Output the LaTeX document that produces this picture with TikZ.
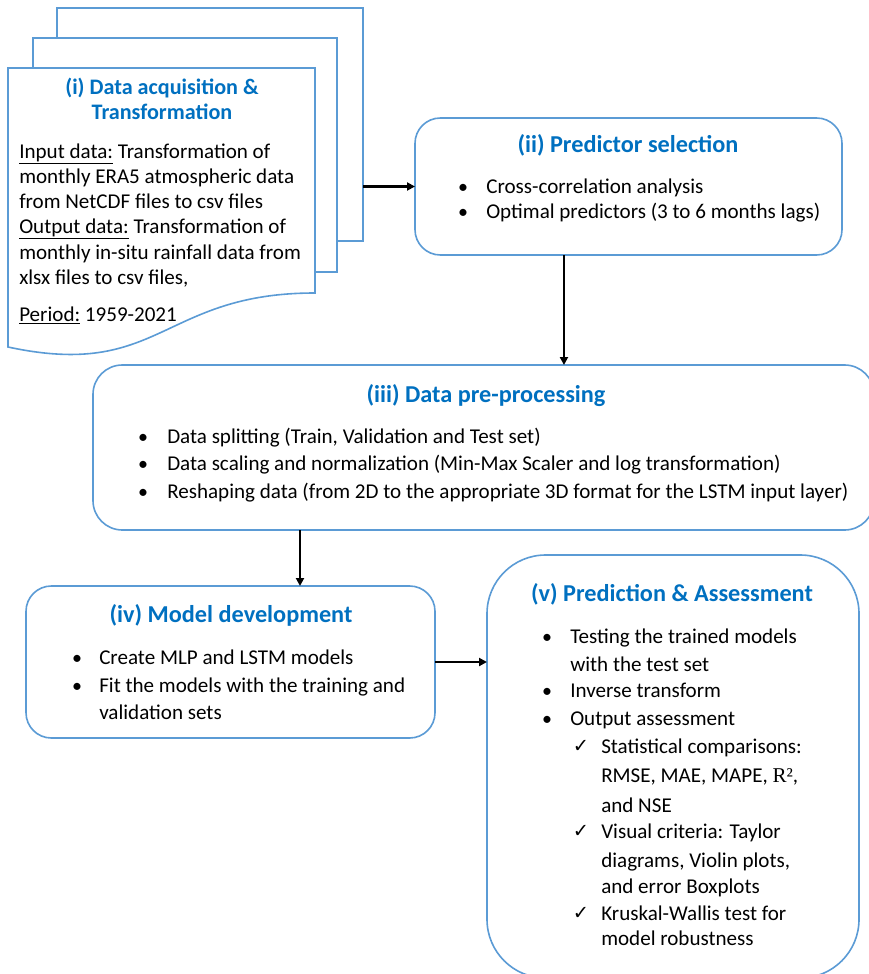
\documentclass[tikz,border=0pt]{standalone}
\usepackage{fontspec}
\setmainfont{Carlito}
\newfontfamily\symfont{DejaVu Sans}
\newfontfamily\rfont{Liberation Serif}
\usetikzlibrary{arrows.meta,fit}
\definecolor{bord}{HTML}{5B9BD5}
\definecolor{ttlblue}{HTML}{0070C0}
\tikzset{
  box/.style={draw=bord, line width=1.2pt, fill=white, inner sep=0pt, outer sep=0pt},
  docst/.style={draw=bord, line width=1.2pt, fill=white, inner sep=0pt, outer sep=0pt},
  ttl/.style={text=ttlblue, font=\fontsize{18.2}{22}\selectfont\bfseries, anchor=base, inner sep=0pt},
  dttl/.style={text=ttlblue, font=\fontsize{16.6}{20}\selectfont\bfseries, anchor=base, inner sep=0pt},
  txt/.style={font=\fontsize{15.8}{19}\selectfont, anchor=base west, inner sep=0pt},
  bul/.style={font=\fontsize{15}{19}\selectfont, anchor=base, inner sep=0pt},
  chk/.style={font=\fontsize{14.5}{16}\symfont, anchor=base, inner sep=0pt},
  arr/.style={-{Triangle[length=6pt,width=6pt]}, line width=1.8pt, black},
}
\begin{document}
\begin{tikzpicture}[x=0.75pt,y=-0.75pt]
\useasboundingbox (0,0) rectangle (868,974);
% document stack
\node[docst, fit={(57,8)(363,241)}] (docback) {};
\node[docst, fit={(33,38)(337,272)}] (docmid) {};
\draw[docst] (8,68) -- (315,68) -- (315,293) .. controls (161,293) and (161,380) .. (8,347) -- cycle;
% boxes
\node[box, rounded corners=19pt, fit={(415,118)(842,255)}] (ii) {};
\node[box, rounded corners=22pt, fit={(93,365)(874,530)}] (iii) {};
\node[box, rounded corners=19pt, fit={(26,586)(435,738)}] (iv) {};
\node[box, rounded corners=44pt, fit={(487,555)(859,978)}] (v) {};
% titles
\node[dttl] (t1a) at (162,94) {(i) Data acquisition \&};
\node[dttl] (t1b) at (162,119) {Transformation};
\node[ttl] (t2) at (628,152) {(ii) Predictor selection};
\node[ttl] (t3) at (486,402) {(iii) Data pre-processing};
\node[ttl] (t4) at (231,622) {(iv) Model development};
\node[ttl] (t5) at (672,601) {(v) Prediction \& Assessment};
% (i) text
\foreach \n/\y/\t in {
  1/158/{\underline{Input data:} Transformation of},
  2/183/{monthly ERA5 atmospheric data},
  3/208/{from NetCDF files to csv files},
  4/233/{\underline{Output data:} Transformation of},
  5/259/{monthly in-situ rainfall data from},
  6/284/{xlsx files to csv files,},
  7/321/{\underline{Period:} 1959-2021}}
  \node[txt] (d\n) at (19,\y) {\t};
% (ii) text
\foreach \n/\y/\t in {1/193/{Cross-correlation analysis}, 2/218/{Optimal predictors (3 to 6 months lags)}}{
  \node[bul] (b2\n) at (463,\y) {\textbullet};
  \node[txt] (s2\n) at (486,\y) {\t};
}
% (iii) text
\foreach \n/\y/\t in {1/443/{Data splitting (Train, Validation and Test set)},
  2/470/{Data scaling and normalization (Min-Max Scaler and log transformation)},
  3/498/{Reshaping data (from 2D to the appropriate 3D format for the LSTM input layer)}}{
  \node[bul] (b3\n) at (143,\y) {\textbullet};
  \node[txt] (s3\n) at (167,\y) {\t};
}
% (iv) text
\foreach \n/\y/\t in {1/664/{Create MLP and LSTM models}, 2/692/{Fit the models with the training and}}{
  \node[bul] (b4\n) at (77,\y) {\textbullet};
  \node[txt] (s4\n) at (99,\y) {\t};
}
\node[txt] (s43) at (99,719) {validation sets};
% (v) text
\foreach \n/\y in {1/643, 3/697, 4/725}{
  \node[bul] (b5\n) at (547,\y) {\textbullet};
}
\foreach \n/\y/\t in {1/643/{Testing the trained models}, 2/671/{with the test set}, 3/697/{Inverse transform}, 4/725/{Output assessment}}{
  \node[txt] (s5\n) at (570,\y) {\t};
}
\foreach \n/\y in {1/752, 2/837, 3/919}{
  \node[chk] (c\n) at (581,\y) {✓};
}
\foreach \n/\y/\t in {1/753/{Statistical comparisons:},
  2/782/{RMSE, MAE, MAPE, {\rfont R²},},
  3/812/{and NSE},
  4/838/{Visual criteria: Taylor},
  5/867/{diagrams, Violin plots,},
  6/893/{and error Boxplots},
  7/920/{Kruskal-Wallis test for},
  8/945/{model robustness}}
  \node[txt] (u\n) at (601,\y) {\t};
% connectors
\draw[arr] (ii.west -| docback.east) -- (ii.west);
\draw[arr] ([xshift=-48.4pt]ii.south) -- ([xshift=-48.4pt]ii.south |- iii.north);
\coordinate (x3) at (300,0);
\draw[arr] (iii.south -| x3) -- (iv.north -| x3);
\draw[arr] (iv.east) -- (iv.east -| v.west);
\end{tikzpicture}
\end{document}
